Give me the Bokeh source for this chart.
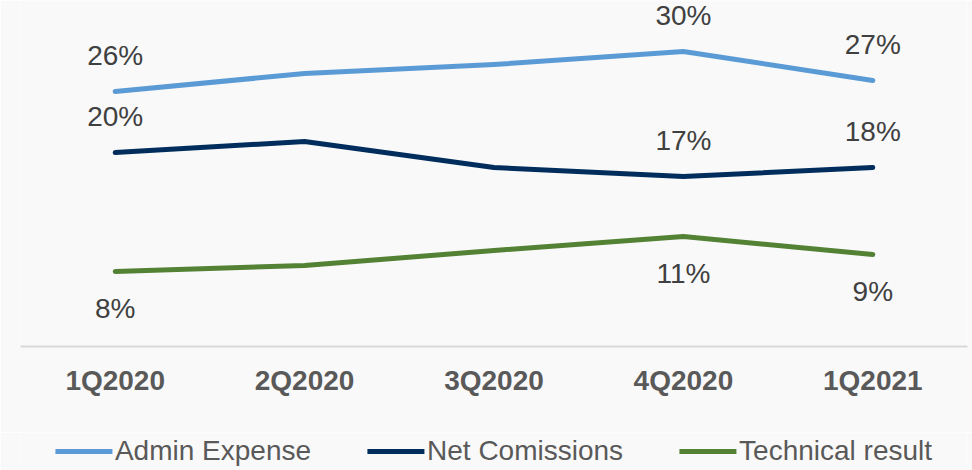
from bokeh.plotting import figure
from bokeh.models import ColumnDataSource, Range1d, FactorRange, Legend, LegendItem
from bokeh.layouts import column
from bokeh.core.properties import value
from bokeh.embed import file_html
from bokeh.resources import INLINE

quarters = ["1Q2020", "2Q2020", "3Q2020", "4Q2020", "1Q2021"]
admin_expense = [25.7, 27.5, 28.4, 29.7, 26.8]
net_comissions = [19.6, 20.7, 18.1, 17.2, 18.1]
technical_result = [7.7, 8.3, 9.8, 11.2, 9.4]
labelled_idx = [0, 3, 4]

series = [
    ("Admin Expense", admin_expense, "#5B9BD5", 36),
    ("Net Comissions", net_comissions, "#002D5C", 36),
    ("Technical result", technical_result, "#548235", -37),
]

FONT = "Liberation Sans"
BG = "#f9f9fa"
p = figure(x_range=FactorRange(*quarters, range_padding=0), y_range=Range1d(0.2, 34.8),
           width=972, height=432, output_backend="svg", toolbar_location=None,
           min_border_left=20, min_border_right=5, min_border_top=0, min_border_bottom=86)
p.background_fill_color = BG
p.border_fill_color = BG
p.outline_line_color = None
p.xgrid.grid_line_color = None
p.ygrid.grid_line_color = None
p.yaxis.visible = False

xa = p.xaxis[0]
xa.axis_line_color = "#d9d9d9"
xa.axis_line_width = 2
xa.major_tick_line_color = None
xa.minor_tick_line_color = None
xa.major_label_text_font = FONT
xa.major_label_text_font_size = "28px"
xa.major_label_text_font_style = "bold"
xa.major_label_text_color = "#595959"
xa.major_label_standoff = 12

# legend strip below the chart (its lines lie outside its visible y range)
lg = figure(width=972, height=38, output_backend="svg", toolbar_location=None,
            x_range=FactorRange(*quarters, range_padding=0), y_range=Range1d(100, 101),
            min_border_left=17, min_border_right=0, min_border_top=0, min_border_bottom=0)
lg.background_fill_color = BG
lg.border_fill_color = BG
lg.outline_line_color = None
lg.axis.visible = False
lg.grid.visible = False

items = []
for name, vals, color, off in series:
    src = ColumnDataSource(dict(x=quarters, y=vals))
    p.line("x", "y", source=src, line_color=color, line_width=5, line_cap="round", line_join="round")
    lsrc = ColumnDataSource(dict(x=[quarters[i] for i in labelled_idx],
                                 y=[vals[i] for i in labelled_idx],
                                 t=[f"{round(vals[i])}%" for i in labelled_idx]))
    p.text("x", "y", text="t", source=lsrc, text_font=value(FONT), text_font_size="28px",
           text_color="#404040", text_align="center", text_baseline="middle", y_offset=-off)
    lr = lg.line("x", "y", source=src, line_color=color, line_width=5, line_cap="round")
    items.append(LegendItem(label=name, renderers=[lr]))

legend = Legend(items=items, orientation="horizontal", location="center",
                label_text_font=FONT, label_text_font_size="28px", label_text_color="#595959",
                glyph_width=57, glyph_height=20, label_standoff=3, spacing=56,
                padding=0, margin=0, background_fill_alpha=0, border_line_alpha=0)
lg.add_layout(legend, "center")

layout = column(p, lg, spacing=0)
open("out.html", "w").write(file_html(layout, INLINE))
